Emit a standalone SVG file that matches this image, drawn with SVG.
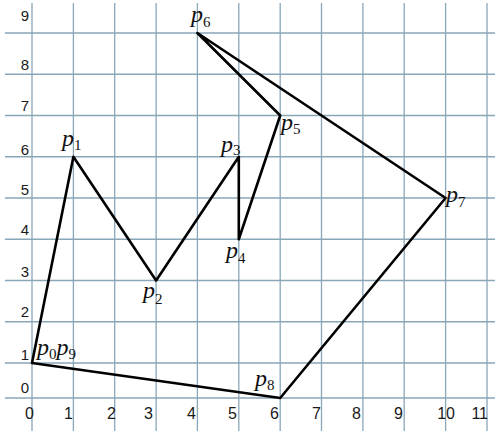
<svg xmlns="http://www.w3.org/2000/svg" width="495" height="431" viewBox="0 0 495 431">
<style>
.grid line{stroke:#8aa6b9;stroke-width:1.3}
.ax{font-family:"Liberation Sans","DejaVu Sans",sans-serif;fill:#1a1a1a}
.ay{font-size:15px;text-anchor:end}
.axx{font-size:16px;text-anchor:end}
.lbl{font-family:"Liberation Serif","DejaVu Serif",serif;font-size:24px;fill:#111}
.lbl .p{font-style:italic}
.lbl .s{font-size:15px}
.edge{fill:none;stroke:#000;stroke-width:2.6;stroke-linejoin:round;stroke-linecap:round}
</style>
<rect width="495" height="431" fill="#fff"/>
<g class="grid">
<line x1="32" y1="3" x2="32" y2="431"/>
<line x1="73.4" y1="3" x2="73.4" y2="431"/>
<line x1="114.7" y1="3" x2="114.7" y2="431"/>
<line x1="156.1" y1="3" x2="156.1" y2="431"/>
<line x1="197.4" y1="3" x2="197.4" y2="431"/>
<line x1="238.8" y1="3" x2="238.8" y2="431"/>
<line x1="280.2" y1="3" x2="280.2" y2="431"/>
<line x1="321.5" y1="3" x2="321.5" y2="431"/>
<line x1="362.9" y1="3" x2="362.9" y2="431"/>
<line x1="404.2" y1="3" x2="404.2" y2="431"/>
<line x1="445.6" y1="3" x2="445.6" y2="431"/>
<line x1="487" y1="3" x2="487" y2="431"/>
<line x1="5" y1="33" x2="495" y2="33"/>
<line x1="5" y1="74.25" x2="495" y2="74.25"/>
<line x1="5" y1="115.5" x2="495" y2="115.5"/>
<line x1="5" y1="156.75" x2="495" y2="156.75"/>
<line x1="5" y1="198" x2="495" y2="198"/>
<line x1="5" y1="239.25" x2="495" y2="239.25"/>
<line x1="5" y1="280.5" x2="495" y2="280.5"/>
<line x1="5" y1="321.75" x2="495" y2="321.75"/>
<line x1="5" y1="363" x2="495" y2="363"/>
<line x1="5" y1="398" x2="495" y2="398"/>
</g>
<g class="ax ay">
<text x="29" y="21">9</text>
<text x="29" y="70">8</text>
<text x="29" y="111">7</text>
<text x="29" y="155">6</text>
<text x="29" y="195">5</text>
<text x="29" y="235">4</text>
<text x="29" y="277">3</text>
<text x="29" y="317">2</text>
<text x="29" y="360">1</text>
<text x="29" y="393">0</text>
</g>
<g class="ax axx">
<text x="34" y="419">0</text>
<text x="73" y="419">1</text>
<text x="116" y="419">2</text>
<text x="153" y="419">3</text>
<text x="196" y="419">4</text>
<text x="237" y="419">5</text>
<text x="279" y="419">6</text>
<text x="321" y="419">7</text>
<text x="361" y="419">8</text>
<text x="403" y="419">9</text>
<text x="455" y="419">10</text>
<text x="488" y="419">11</text>
</g>
<g id="connectors">
<polygon class="edge" points="32,363 73.4,156.75 156.1,280.5 238.8,156.75 238.8,239.25 280.2,115.5 197.4,33 445.6,198 280.2,398"/>
</g>
<g id="p0p9"><text class="lbl" x="37" y="355"><tspan class="p">p</tspan><tspan class="s" dy="4">0</tspan><tspan class="p" dy="-4">p</tspan><tspan class="s" dy="4">9</tspan></text></g>
<g id="p1"><text class="lbl" x="62" y="146"><tspan class="p">p</tspan><tspan class="s" dy="4">1</tspan></text></g>
<g id="p2"><text class="lbl" x="143" y="298"><tspan class="p">p</tspan><tspan class="s" dy="6">2</tspan></text></g>
<g id="p3"><text class="lbl" x="221" y="152"><tspan class="p">p</tspan><tspan class="s" dy="3">3</tspan></text></g>
<g id="p4"><text class="lbl" x="226" y="258"><tspan class="p">p</tspan><tspan class="s" dy="5">4</tspan></text></g>
<g id="p5"><text class="lbl" x="281" y="130"><tspan class="p">p</tspan><tspan class="s" dy="4">5</tspan></text></g>
<g id="p6"><text class="lbl" x="191" y="22"><tspan class="p">p</tspan><tspan class="s" dy="5">6</tspan></text></g>
<g id="p7"><text class="lbl" x="446" y="202"><tspan class="p">p</tspan><tspan class="s" dy="5">7</tspan></text></g>
<g id="p8"><text class="lbl" x="255" y="386"><tspan class="p">p</tspan><tspan class="s" dy="4">8</tspan></text></g>
</svg>
